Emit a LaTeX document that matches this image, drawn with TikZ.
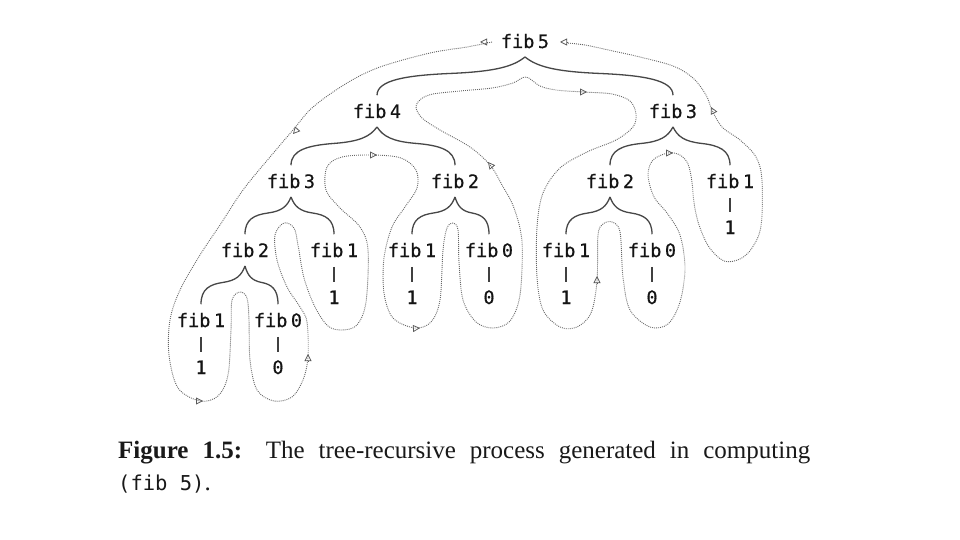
\documentclass[tikz,border=0pt]{standalone}
\usepackage{fontspec}
\setmainfont{Liberation Serif}
\newfontfamily\treefont[FakeBold=0.4]{DejaVu Sans Mono}
\newfontfamily\capmono{DejaVu Sans Mono}
\usetikzlibrary{calc,arrows.meta}
\newcommand\fibl[1]{fib\kern3.5pt#1}
\newcommand\tbrace[2]{\draw[treeline] let \p1=(#1.south), \p2=(#2.north), \n1={\x2-\x1}, \n2={\y2-\y1} in
  (\p1) .. controls ($(\p1)+({0.08*\n1},{0.25*\n2})$) and ($(\p1)+({0.2*\n1},{0.38*\n2})$) .. ($(\p1)+({0.5*\n1},{0.43*\n2})$)
  .. controls ($(\p1)+({0.8*\n1},{0.48*\n2})$) and ($(\p2)+(0,{-0.4*\n2})$) .. (\p2);}
\begin{document}
\begin{tikzpicture}[x=1pt,y=-1pt,
  lab/.style={font=\treefont\fontsize{18.5}{20}\selectfont, text=black!92, inner xsep=2pt, inner ysep=8.5pt, anchor=base},
  treeline/.style={draw=black!72, line width=1.3pt},
  barline/.style={draw=black!75, line width=1.1pt, shorten <=1pt},
  trace/.style={draw=black!60, line width=0.9pt, dash pattern=on 0.9pt off 1.1pt},
  arr/.style={draw=black!65, line width=0.75pt, -{Triangle[open,length=7pt,width=7pt]}}
]
\useasboundingbox[fill=white] (0,0) rectangle (960,540);

% tree nodes
\node[lab] (f5)  at (525,48)  {\fibl5};
\node[lab] (f4)  at (377,118) {\fibl4};
\node[lab] (f3r) at (673,118) {\fibl3};
\node[lab] (f3l) at (291,188) {\fibl3};
\node[lab] (f2m) at (455,188) {\fibl2};
\node[lab] (f2r) at (610,188) {\fibl2};
\node[lab] (f1r) at (730,188) {\fibl1};
\node[lab] (v1r) at (730,234) {1};
\node[lab] (f2l) at (245,257) {\fibl2};
\node[lab] (f1a) at (334,257) {\fibl1};
\node[lab] (v1a) at (334,304) {1};
\node[lab] (f1b) at (412,257) {\fibl1};
\node[lab] (v1b) at (412,304) {1};
\node[lab] (f0b) at (489,257) {\fibl0};
\node[lab] (v0b) at (489,304) {0};
\node[lab] (f1c) at (566,257) {\fibl1};
\node[lab] (v1c) at (566,304) {1};
\node[lab] (f0c) at (652,257) {\fibl0};
\node[lab] (v0c) at (652,304) {0};
\node[lab] (f1d) at (201,327) {\fibl1};
\node[lab] (v1d) at (201,374) {1};
\node[lab] (f0d) at (278,327) {\fibl0};
\node[lab] (v0d) at (278,374) {0};

% braces
\tbrace{f5}{f4}
\tbrace{f5}{f3r}
\tbrace{f4}{f3l}
\tbrace{f4}{f2m}
\tbrace{f3r}{f2r}
\tbrace{f3r}{f1r}
\tbrace{f3l}{f2l}
\tbrace{f3l}{f1a}
\tbrace{f2m}{f1b}
\tbrace{f2m}{f0b}
\tbrace{f2r}{f1c}
\tbrace{f2r}{f0c}
\tbrace{f2l}{f1d}
\tbrace{f2l}{f0d}

% bars
\foreach \a/\b in {f1r/v1r,f1a/v1a,f1b/v1b,f0b/v0b,f1c/v1c,f0c/v0c,f1d/v1d,f0d/v0d}
  \draw[barline] (\a.south) -- (\b.north);

% process trace
\draw[trace] plot[smooth, tension=0.55] coordinates {
(492,42) (467,47) (430,53) (380,67) (347,83) (313,107) (293,130) (270,157)
(243,190) (220,225) (200,255) (180,290) (170,320) (169,355) (178,388) (200,401)
(218,396) (228,375) (231,330) (232,300) (240,292) (247,298) (249,320) (250,360)
(257,390) (274,401) (292,397) (303,380) (308,357) (307,322) (300,307) (287,287)
(277,260) (275,235) (284,223) (294,228) (298,245) (304,278) (315,307) (328,326)
(342,330) (357,325) (366,302) (368,250) (360,227) (340,208) (326,190) (327,167)
(342,157) (373,155) (401,158) (416,170) (417,188) (405,207) (392,227) (384,258)
(384,293) (393,318) (415,328) (431,322) (440,300) (443,250) (447,228) (453,223)
(458,230) (459,262) (463,300) (476,322) (493,328) (510,321) (520,295) (522,242)
(514,208) (502,185) (490,165) (470,147) (440,130) (422,118) (416,107) (421,99)
(433,94) (460,91) (492,88) (513,83) (526,77) (540,86) (556,90) (583,92)
(612,94) (630,101) (636,114) (633,127) (616,140) (587,152) (560,168) (543,193)
(537,227) (537,277) (543,310) (560,327) (577,327) (591,313) (597,281) (598,235)
(603,224) (612,222) (620,232) (623,277) (630,310) (650,327) (668,324) (680,302)
(685,268) (680,235) (667,213) (654,197) (648,175) (653,160) (668,153) (680,155)
(688,164) (692,182) (694,203) (699,225) (709,247) (724,261) (740,259) (752,248)
(761,226) (762,180) (756,157) (740,140) (722,127) (712,110) (706,95) (693,78)
(673,66) (640,57) (613,51) (585,45) (567,43)};

% arrowheads on the trace
\draw[arr] (487,42) -- (480,42);
\draw[arr] (297,129.5) -- (293,134);
\draw[arr] (196,401) -- (203,401);
\draw[arr] (308,361) -- (308,354);
\draw[arr] (370,155) -- (377,155);
\draw[arr] (413,328.5) -- (420,328);
\draw[arr] (492,167) -- (488,162);
\draw[arr] (580,92) -- (587,92);
\draw[arr] (597,283) -- (597,276);
\draw[arr] (666,153) -- (673,153);
\draw[arr] (714,113) -- (711,107);
\draw[arr] (567,42) -- (560,42);

% caption
\node[anchor=base west, inner sep=0pt, text=black!90, font=\fontsize{25}{30}\selectfont] (cap1) at (118,458)
  {\makebox[692pt][s]{\textbf{Figure 1.5:} The tree-recursive process generated in computing}};
\node[anchor=base west, inner sep=0pt, text=black!90, font=\fontsize{25}{30}\selectfont] (cap2) at (118,490)
  {{\capmono\fontsize{20.5}{24}\selectfont(fib 5)}.};
\end{tikzpicture}
\end{document}
